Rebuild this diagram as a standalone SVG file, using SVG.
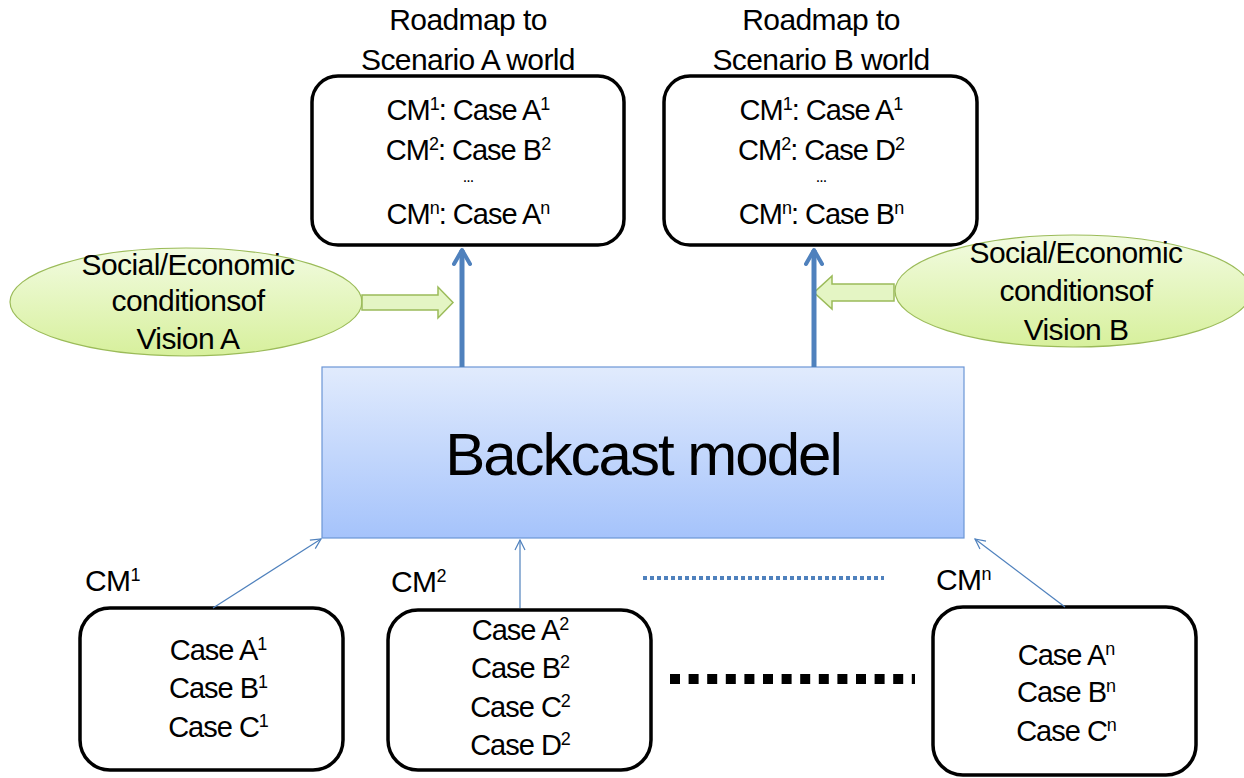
<svg xmlns="http://www.w3.org/2000/svg" width="1244" height="778" viewBox="0 0 1244 778">
<style>
text{font-family:"Liberation Sans",Arial,sans-serif;fill:#000;text-anchor:middle}
.t{font-size:30px;letter-spacing:-0.6px}
.c{font-size:29px;letter-spacing:-1px}
.s{font-size:18px;baseline-shift:55%}
.box{fill:#fff;stroke:#000;stroke-width:3.5}
.ell{fill:url(#gg);stroke:#9bbb59;stroke-width:1.2}
.barrow{fill:#e4f5c4;stroke:#9bbb59;stroke-width:1.5}
.big{stroke:#4f81bd;stroke-width:5;fill:none}
.thin{stroke:#4f81bd;stroke-width:1.2;fill:none}
</style>
<defs>
<linearGradient id="bg" x1="0" y1="0" x2="0" y2="1"><stop offset="0" stop-color="#e1ebfd"/><stop offset="1" stop-color="#a5c3fb"/></linearGradient>
<linearGradient id="gg" x1="0" y1="0" x2="0" y2="1"><stop offset="0" stop-color="#f2fbe1"/><stop offset="1" stop-color="#d7f09c"/></linearGradient>
<marker id="ah" viewBox="0 0 20 20" refX="17" refY="10" markerWidth="20" markerHeight="20" markerUnits="userSpaceOnUse" orient="auto"><path d="M3,2 L17,10 L3,18" fill="none" stroke="#4f81bd" stroke-width="4" stroke-linecap="round" stroke-linejoin="round"/></marker>
<marker id="at" viewBox="0 0 12 12" refX="11" refY="6" markerWidth="12" markerHeight="12" markerUnits="userSpaceOnUse" orient="auto"><path d="M1,1 L11,6 L1,11" fill="none" stroke="#4f81bd" stroke-width="1.2"/></marker>
</defs>

<g id="roadmapA">
<text class="t" x="468" y="30">Roadmap to</text>
<text class="t" x="468" y="70">Scenario A world</text>
<rect class="box" x="312" y="76" width="312" height="169" rx="26"/>
<text class="c" x="468" y="120">CM<tspan class="s">1</tspan>: Case A<tspan class="s">1</tspan></text>
<text class="c" x="468" y="160">CM<tspan class="s">2</tspan>: Case B<tspan class="s">2</tspan></text>
<text class="c" x="468" y="182" style="font-size:16px">...</text>
<text class="c" x="468" y="224">CM<tspan class="s">n</tspan>: Case A<tspan class="s">n</tspan></text>
</g>

<g id="roadmapB">
<text class="t" x="821" y="30">Roadmap to</text>
<text class="t" x="821" y="70">Scenario B world</text>
<rect class="box" x="664" y="76" width="313" height="169" rx="26"/>
<text class="c" x="821" y="120">CM<tspan class="s">1</tspan>: Case A<tspan class="s">1</tspan></text>
<text class="c" x="821" y="160">CM<tspan class="s">2</tspan>: Case D<tspan class="s">2</tspan></text>
<text class="c" x="821" y="182" style="font-size:16px">...</text>
<text class="c" x="821" y="224">CM<tspan class="s">n</tspan>: Case B<tspan class="s">n</tspan></text>
</g>

<g id="visionA">
<ellipse class="ell" cx="186" cy="302" rx="176" ry="54"/>
<text class="t" x="188" y="275">Social/Economic</text>
<text class="t" x="188" y="311">conditionsof</text>
<text class="t" x="188" y="349">Vision A</text>
</g>

<g id="visionB">
<ellipse class="ell" cx="1073" cy="291" rx="178" ry="56"/>
<text class="t" x="1076" y="263">Social/Economic</text>
<text class="t" x="1076" y="301">conditionsof</text>
<text class="t" x="1076" y="340">Vision B</text>
</g>

<g id="backcast">
<rect x="322" y="367" width="642" height="171" fill="url(#bg)" stroke="#6c96d6" stroke-width="1.2"/>
<text x="643" y="475" style="font-size:60px;letter-spacing:-2px">Backcast model</text>
</g>

<g id="cm1">
<text class="t" x="85" y="591" style="text-anchor:start">CM<tspan class="s">1</tspan></text>
<rect class="box" x="80" y="608" width="263" height="162" rx="30"/>
<text class="c" x="218" y="660">Case A<tspan class="s">1</tspan></text>
<text class="c" x="218" y="698">Case B<tspan class="s">1</tspan></text>
<text class="c" x="218" y="737">Case C<tspan class="s">1</tspan></text>
</g>

<g id="cm2">
<text class="t" x="391" y="592" style="text-anchor:start">CM<tspan class="s">2</tspan></text>
<rect class="box" x="388" y="610" width="263" height="160" rx="30"/>
<text class="c" x="520" y="640">Case A<tspan class="s">2</tspan></text>
<text class="c" x="520" y="678">Case B<tspan class="s">2</tspan></text>
<text class="c" x="520" y="717">Case C<tspan class="s">2</tspan></text>
<text class="c" x="520" y="755">Case D<tspan class="s">2</tspan></text>
</g>

<g id="cmn">
<text class="t" x="936" y="590" style="text-anchor:start">CM<tspan class="s">n</tspan></text>
<rect class="box" x="933" y="607" width="263" height="168" rx="30"/>
<text class="c" x="1066" y="665">Case A<tspan class="s">n</tspan></text>
<text class="c" x="1066" y="702">Case B<tspan class="s">n</tspan></text>
<text class="c" x="1066" y="741">Case C<tspan class="s">n</tspan></text>
</g>

<g id="connectors">
<path class="barrow" d="M362,295 L438,295 L438,287 L453,302.5 L438,318 L438,310 L362,310 Z"/>
<path class="barrow" d="M894,284 L832,284 L832,276 L814,292.5 L832,309 L832,301 L894,301 Z"/>
<line class="big" x1="462" y1="367" x2="462" y2="250" marker-end="url(#ah)"/>
<line class="big" x1="814" y1="367" x2="814" y2="250" marker-end="url(#ah)"/>
<line class="thin" x1="213" y1="608" x2="321" y2="539" marker-end="url(#at)"/>
<line class="thin" x1="520" y1="608" x2="520" y2="540" marker-end="url(#at)"/>
<line class="thin" x1="1065" y1="607" x2="975" y2="539" marker-end="url(#at)"/>
<line x1="643" y1="578" x2="884" y2="578" stroke="#4f81bd" stroke-width="4" stroke-dasharray="4 3"/>
<line x1="670" y1="679" x2="915" y2="679" stroke="#000" stroke-width="10" stroke-dasharray="10 8.6"/>
</g>
</svg>
